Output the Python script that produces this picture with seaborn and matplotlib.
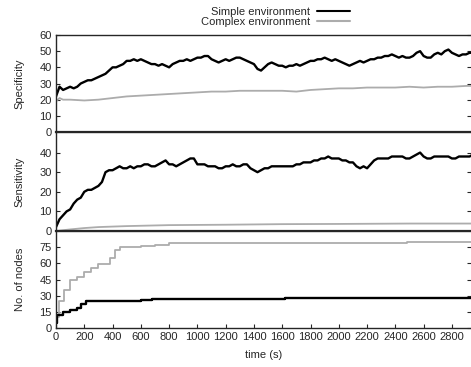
import numpy as np
import pandas as pd
import matplotlib
matplotlib.use('Agg')
import matplotlib.pyplot as plt
import seaborn as sns

# sample spacing of the simple-environment traces (seconds)
step = 25

spec_simple = [22, 28, 26, 27, 28, 27, 28, 30, 31, 32, 32, 33, 34, 35, 36, 38, 40, 40, 41, 42,
               44, 44, 45, 44, 45, 44, 43, 42, 42, 41, 42, 41, 40, 42, 43, 44, 44, 45, 44, 45,
               46, 46, 47, 47, 45, 44, 43, 44, 45, 44, 45, 46, 46, 45, 44, 43, 42, 39, 38, 40,
               42, 43, 42, 41, 41, 40, 41, 41, 42, 41, 42, 43, 44, 44, 45, 45, 46, 45, 44, 45,
               44, 43, 42, 41, 42, 43, 44, 43, 44, 45, 45, 46, 46, 47, 47, 48, 47, 46, 47, 46,
               46, 47, 49, 50, 47, 46, 46, 48, 49, 48, 50, 51, 49, 48, 47, 48, 48, 49, 49]

sens_simple = [2, 6, 8, 10, 11, 14, 16, 17, 20, 21, 21, 22, 23, 25, 30, 31, 31, 32, 33, 32,
               32, 33, 32, 33, 33, 34, 34, 33, 33, 34, 35, 36, 34, 34, 33, 34, 35, 36, 37, 37,
               34, 34, 34, 33, 33, 33, 32, 32, 33, 33, 34, 33, 33, 34, 34, 32, 31, 30, 31, 32,
               32, 33, 33, 33, 33, 33, 33, 33, 34, 34, 35, 35, 35, 36, 36, 37, 37, 38, 37, 37,
               37, 36, 36, 35, 35, 33, 32, 33, 32, 34, 36, 37, 37, 37, 37, 38, 38, 38, 38, 37,
               37, 38, 39, 40, 38, 37, 37, 38, 38, 38, 38, 38, 37, 37, 38, 38, 38, 38, 39]

spec_complex_t = [0, 25, 50, 100, 200, 300, 400, 500, 600, 700, 800, 900, 1000, 1100, 1200, 1300,
                  1400, 1500, 1600, 1700, 1800, 1900, 2000, 2100, 2200, 2300, 2400, 2500, 2600,
                  2700, 2800, 2900, 2950]
spec_complex = [19, 21, 20, 20, 19.5, 20, 21, 22, 22.5, 23, 23.5, 24, 24.5, 25, 25, 25.5,
                25.5, 25.5, 25.5, 25, 26, 26.5, 27, 27, 27.5, 27.5, 27.5, 28, 27.5,
                28, 28, 28.5, 28.5]

sens_complex_t = [0, 100, 200, 300, 500, 800, 1200, 1600, 2000, 2500, 2950]
sens_complex = [0, 0.8, 1.5, 2, 2.5, 3, 3.2, 3.5, 3.6, 3.8, 3.8]

nodes_simple_t = [0, 10, 50, 100, 150, 180, 210, 600, 680, 1620, 2950]
nodes_simple = [5, 12, 15, 17, 19, 22, 25, 26, 27, 28, 28]

nodes_complex_t = [0, 10, 20, 60, 100, 150, 200, 250, 300, 380, 420, 450, 600, 700, 800, 2480, 2950]
nodes_complex = [5, 10, 25, 35, 45, 47, 52, 56, 59, 65, 72, 75, 76, 77, 79, 80, 80]

labels = ['Simple environment', 'Complex environment']
colors = {'Simple environment': 'black', 'Complex environment': '#acacac'}


def frame(t_s, y_s, t_c, y_c):
    a = pd.DataFrame({'t': t_s, 'v': y_s, 'env': labels[0]})
    b = pd.DataFrame({'t': t_c, 'v': y_c, 'env': labels[1]})
    return pd.concat([a, b], ignore_index=True)


t_simple = np.arange(len(spec_simple)) * step
df_spec = frame(t_simple, spec_simple, spec_complex_t, spec_complex)
df_sens = frame(np.arange(len(sens_simple)) * step, sens_simple, sens_complex_t, sens_complex)
df_nodes = frame(nodes_simple_t, nodes_simple, nodes_complex_t, nodes_complex)

sns.set_style('ticks')
plt.rcParams['font.family'] = ['Liberation Sans', 'DejaVu Sans']
plt.rcParams['font.size'] = 8

fig = plt.figure(figsize=(4.71, 3.67), dpi=100)
W, H = 471.0, 367.0
left, right = 56 / W, 471 / W
panels = [(35, 132), (132, 231), (231, 328)]
axes = [fig.add_axes([left, 1 - b / H, right - left, (b - t) / H]) for t, b in panels]

specs = [
    (df_spec, 'Specificity', (0, 60), range(0, 61, 10), None),
    (df_sens, 'Sensitivity', (0, 50.5), range(0, 41, 10), None),
    (df_nodes, 'No. of nodes', (0, 90), range(0, 76, 15), 'steps-post'),
]

for ax, (df, ylab, ylim, yt, ds) in zip(axes, specs):
    kw = {'drawstyle': ds} if ds else {}
    sns.lineplot(data=df, x='t', y='v', hue='env', hue_order=labels[::-1],
                 palette=colors, ax=ax, legend=False, **kw)
    for line in ax.get_lines():
        line.set_linewidth(1.7 if line.get_color() == 'black' else 1.3)
    ax.set_xlim(0, 2935)
    ax.set_ylim(*ylim)
    ax.set_yticks(list(yt))
    ax.set_ylabel(ylab, fontsize=8)
    ax.set_xlabel('')
    ax.set_xticks(range(0, 2801, 200))
    ax.tick_params(direction='in', length=3, width=0.8, labelsize=8, pad=3,
                   right=True, top=False)
    for s in ['left', 'bottom', 'top']:
        ax.spines[s].set_linewidth(1.0)
    ax.spines['right'].set_visible(False)
    if ax is not axes[-1]:
        ax.tick_params(labelbottom=False, bottom=False)
        ax.spines['bottom'].set_linewidth(1.6)

axes[-1].set_xlabel('time (s)', fontsize=8, labelpad=6)
for ax in axes:
    ax.yaxis.set_label_coords(-0.075, 0.5)

handles = [plt.Line2D([], [], color=colors[l], lw=1.5) for l in labels]
fig.legend(handles, labels, loc='upper center', bbox_to_anchor=(0.585, 1.0),
           frameon=False, markerfirst=False, handlelength=3.0, labelspacing=0.05,
           fontsize=8, borderaxespad=0.2, handletextpad=0.6)

fig.savefig('out.png', dpi=100)
